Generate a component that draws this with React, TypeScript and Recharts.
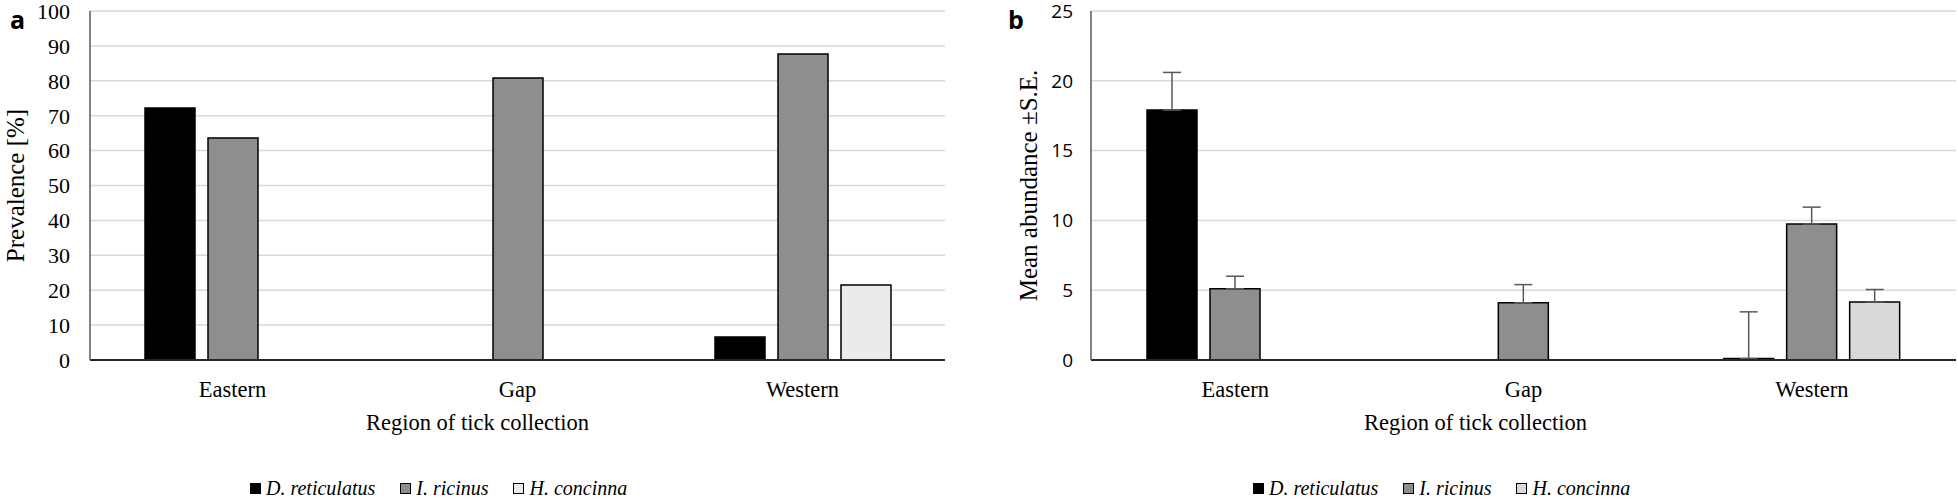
import { Bar, BarChart, CartesianGrid, ErrorBar, XAxis, YAxis } from "recharts";

// categories
const REGIONS = ["Eastern", "Gap", "Western"];

// series names
const SPECIES = ["D. reticulatus", "I. ricinus", "H. concinna"];

// panel a: prevalence [%]
const PREV_DRET = [72.2, null, 6.6];
const PREV_IRIC = [63.6, 80.8, 87.7];
const PREV_HCON = [null, null, 21.5];

// panel b: mean abundance and S.E.
const ABUND_DRET = [17.9, null, 0.1];
const ABUND_IRIC = [5.1, 4.1, 9.75];
const ABUND_HCON = [null, null, 4.15];
const SE_DRET = [2.7, 0, 3.35];
const SE_IRIC = [0.9, 1.3, 1.2];
const SE_HCON = [0, 0, 0.9];

const PREV_TICKS = [0, 10, 20, 30, 40, 50, 60, 70, 80, 90, 100];
const ABUND_TICKS = [0, 5, 10, 15, 20, 25];

const COLORS_A = ["#000000", "#8e8e8e", "#ebebeb"];
const COLORS_B = ["#000000", "#8e8e8e", "#d9d9d9"];

const SERIF = '"Liberation Serif", "Times New Roman", serif';
const SANS = '"Open Sans", "Liberation Sans", sans-serif';

const prevalenceData = REGIONS.map((name, i) => ({
  name,
  dret: PREV_DRET[i],
  iric: PREV_IRIC[i],
  hcon: PREV_HCON[i],
}));

const abundanceData = REGIONS.map((name, i) => ({
  name,
  dret: ABUND_DRET[i],
  iric: ABUND_IRIC[i],
  hcon: ABUND_HCON[i],
  dretErr: [0, SE_DRET[i]],
  iricErr: [0, SE_IRIC[i]],
  hconErr: [0, SE_HCON[i]],
}));

const KEYS = ["dret", "iric", "hcon"];

function LegendRow({ colors, left }: { colors: string[]; left: number }) {
  return (
    <div
      style={{
        position: "absolute",
        left,
        top: 477,
        display: "flex",
        alignItems: "center",
        gap: 25,
        fontFamily: SERIF,
        fontStyle: "italic",
        fontSize: 20,
        color: "#000",
        whiteSpace: "nowrap",
      }}
    >
      {SPECIES.map((s, i) => (
        <span key={s} style={{ display: "flex", alignItems: "center", gap: 5 }}>
          <span
            style={{
              width: 9,
              height: 9,
              background: colors[i],
              border: "1px solid #000",
              display: "inline-block",
            }}
          />
          {s}
        </span>
      ))}
    </div>
  );
}

const panelLetter = (left: number, text: string) => (
  <div
    style={{
      position: "absolute",
      left,
      top: 2,
      fontFamily: SANS,
      fontWeight: 700,
      fontSize: 25,
      color: "#000",
    }}
  >
    {text}
  </div>
);

export default function App() {
  return (
    <div style={{ position: "absolute", left: 0, top: 0, width: 1958, height: 502, background: "#fff" }}>
      {/* panel a */}
      <div style={{ position: "absolute", left: 0, top: 0 }}>
        <BarChart
          width={980}
          height={502}
          data={prevalenceData}
          margin={{ top: 11, right: 35, left: 0, bottom: 102 }}
          barSize={50}
          barGap={13}
        >
          <CartesianGrid vertical={false} stroke="#d9d9d9" strokeWidth={1.5} />
          <XAxis
            dataKey="name"
            height={40}
            axisLine={{ stroke: "#262626", strokeWidth: 2 }}
            tickLine={false}
            tickMargin={15}
            tick={{ fontFamily: SERIF, fontSize: 22.5, fill: "#000" }}
            label={{
              value: "Region of tick collection",
              position: "bottom",
              offset: 14,
              dx: -40,
              style: { fontFamily: SERIF, fontSize: 22.5, fill: "#000" },
            }}
          />
          <YAxis
            width={90}
            domain={[0, 100]}
            ticks={PREV_TICKS}
            interval={0}
            axisLine={{ stroke: "#595959", strokeWidth: 1.5 }}
            tickLine={false}
            tickMargin={14}
            tick={{ fontFamily: SERIF, fontSize: 22, fill: "#000" }}
            label={{
              value: "Prevalence [%]",
              angle: -90,
              position: "center",
              dx: -30,
              style: { fontFamily: SERIF, fontSize: 25, fill: "#000", textAnchor: "middle" },
            }}
          />
          {KEYS.map((k, i) => (
            <Bar
              key={k}
              dataKey={k}
              name={SPECIES[i]}
              fill={COLORS_A[i]}
              stroke="#000"
              strokeWidth={1.5}
              isAnimationActive={false}
            />
          ))}
        </BarChart>
      </div>

      {/* panel b */}
      <div style={{ position: "absolute", left: 980, top: 0 }}>
        <BarChart
          width={978}
          height={502}
          data={abundanceData}
          margin={{ top: 11, right: 2, left: 0, bottom: 102 }}
          barSize={50}
          barGap={13}
        >
          <CartesianGrid vertical={false} stroke="#d9d9d9" strokeWidth={1.5} />
          <XAxis
            dataKey="name"
            height={40}
            axisLine={{ stroke: "#262626", strokeWidth: 2 }}
            tickLine={false}
            tickMargin={15}
            tick={{ fontFamily: SERIF, fontSize: 22.5, fill: "#000" }}
            label={{
              value: "Region of tick collection",
              position: "bottom",
              offset: 14,
              dx: -48,
              style: { fontFamily: SERIF, fontSize: 22.5, fill: "#000" },
            }}
          />
          <YAxis
            width={111}
            domain={[0, 25]}
            ticks={ABUND_TICKS}
            interval={0}
            axisLine={{ stroke: "#595959", strokeWidth: 1.5 }}
            tickLine={false}
            tickMargin={12}
            tick={{ fontFamily: SANS, fontSize: 19, fill: "#000" }}
            label={{
              value: "Mean abundance ±S.E.",
              angle: -90,
              position: "center",
              dx: -7,
              style: { fontFamily: SERIF, fontSize: 25, fill: "#000", textAnchor: "middle" },
            }}
          />
          {KEYS.map((k, i) => (
            <Bar
              key={k}
              dataKey={k}
              name={SPECIES[i]}
              fill={COLORS_B[i]}
              stroke="#000"
              strokeWidth={1.5}
              isAnimationActive={false}
            >
              <ErrorBar dataKey={`${k}Err`} width={9} stroke="#595959" strokeWidth={1.5} direction="y" />
            </Bar>
          ))}
        </BarChart>
      </div>

      {panelLetter(10, "a")}
      {panelLetter(1008, "b")}
      <LegendRow colors={COLORS_A} left={250} />
      <LegendRow colors={COLORS_B} left={1253} />
    </div>
  );
}
